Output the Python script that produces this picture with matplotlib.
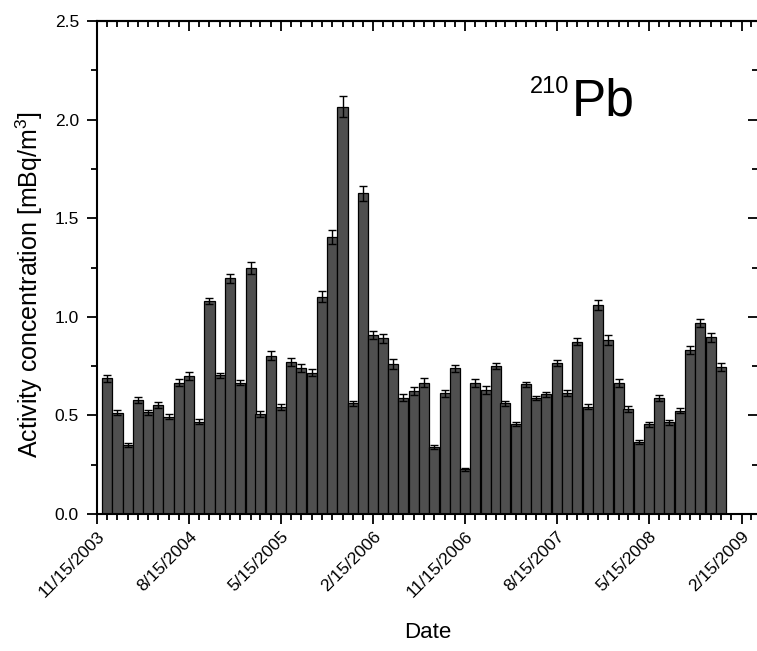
import numpy as np
import pandas as pd
import matplotlib
matplotlib.use("Agg")
import matplotlib.pyplot as plt
import matplotlib.dates as mdates
from matplotlib.ticker import MultipleLocator

plt.rcParams['font.family'] = ['Liberation Sans', 'DejaVu Sans']
plt.rcParams['mathtext.fontset'] = 'custom'
plt.rcParams['mathtext.rm'] = 'Liberation Sans'
plt.rcParams['mathtext.it'] = 'Liberation Sans:italic'

# monthly 210Pb activity concentration, Dec 2003 - Dec 2008
months = pd.date_range("2003-12-15", "2008-12-15", freq=pd.DateOffset(months=1))
activity = [0.688, 0.514, 0.350, 0.578, 0.517, 0.553, 0.494, 0.666, 0.700, 0.468,
            1.080, 0.704, 1.195, 0.666, 1.246, 0.507, 0.803, 0.541, 0.772, 0.739,
            0.717, 1.102, 1.406, 2.065, 0.561, 1.626, 0.908, 0.891, 0.761, 0.590,
            0.624, 0.666, 0.341, 0.612, 0.739, 0.227, 0.666, 0.629, 0.752, 0.561,
            0.456, 0.658, 0.587, 0.607, 0.764, 0.612, 0.874, 0.544, 1.060, 0.882,
            0.666, 0.531, 0.367, 0.455, 0.590, 0.465, 0.524, 0.832, 0.968, 0.896,
            0.747]
errors = [0.019, 0.012, 0.012, 0.016, 0.013, 0.013, 0.014, 0.019, 0.021, 0.013,
          0.015, 0.012, 0.022, 0.013, 0.030, 0.015, 0.022, 0.016, 0.020, 0.020,
          0.018, 0.027, 0.035, 0.054, 0.012, 0.038, 0.022, 0.022, 0.026, 0.018,
          0.018, 0.022, 0.010, 0.018, 0.018, 0.008, 0.020, 0.020, 0.015, 0.012,
          0.010, 0.012, 0.010, 0.012, 0.015, 0.015, 0.018, 0.013, 0.025, 0.025,
          0.020, 0.015, 0.010, 0.013, 0.016, 0.013, 0.013, 0.018, 0.022, 0.022,
          0.020]
tick_dates = pd.date_range("2003-11-15", "2009-02-15", freq=pd.DateOffset(months=9))
tick_labels = ["11/15/2003", "8/15/2004", "5/15/2005", "2/15/2006",
               "11/15/2006", "8/15/2007", "5/15/2008", "2/15/2009"]

fig = plt.figure(figsize=(7.57, 6.51), dpi=100)
ax = fig.add_axes([0.1281, 0.2104, 0.8737, 0.7573])

ax.bar(months, activity, width=30, color='#4f4f4f', edgecolor='black', linewidth=0.9)
ax.errorbar(months, activity, yerr=errors, fmt='none', ecolor='black',
            elinewidth=1, capsize=3, capthick=1)

ax.set_xlim(pd.Timestamp("2003-11-15"), pd.Timestamp("2009-04-06"))
ax.set_ylim(0, 2.5)

ax.set_xticks(tick_dates)
ax.set_xticklabels(tick_labels, rotation=45, ha='right', rotation_mode='anchor', fontsize=12.5)
ax.xaxis.set_minor_locator(mdates.MonthLocator(bymonthday=15))
ax.yaxis.set_major_locator(MultipleLocator(0.5))
ax.yaxis.set_minor_locator(MultipleLocator(0.25))
ax.yaxis.set_major_formatter(plt.FormatStrFormatter('%.1f'))
ax.tick_params(axis='y', labelsize=12.5, pad=6)
ax.tick_params(which='major', direction='out', length=7, width=1.3)
ax.tick_params(which='minor', direction='out', length=4, width=1.3)

# inward ticks on the top and right sides
top = ax.secondary_xaxis('top')
top.set_xticks(tick_dates)
top.xaxis.set_minor_locator(mdates.MonthLocator(bymonthday=15))
top.tick_params(which='major', direction='in', length=7, width=1.3, labeltop=False)
top.tick_params(which='minor', direction='in', length=4, width=1.3)
right = ax.secondary_yaxis('right')
right.yaxis.set_major_locator(MultipleLocator(0.5))
right.yaxis.set_minor_locator(MultipleLocator(0.25))
right.tick_params(which='major', direction='in', length=7, width=1.3, labelright=False)
right.tick_params(which='minor', direction='in', length=4, width=1.3)

for side in ax.spines.values():
    side.set_linewidth(1.5)
top.spines['top'].set_linewidth(1.5)

ax.set_xlabel("Date", fontsize=16, labelpad=16)
ax.set_ylabel("Activity concentration [mBq/m$^3$]", fontsize=18)
ax.yaxis.set_label_coords(-0.078, 0.465)

ax.text(0.655, 0.855, "210", transform=ax.transAxes, fontsize=17, va='baseline')
ax.text(0.718, 0.808, "Pb", transform=ax.transAxes, fontsize=37, va='baseline')

fig.savefig("out.png", dpi=100)
